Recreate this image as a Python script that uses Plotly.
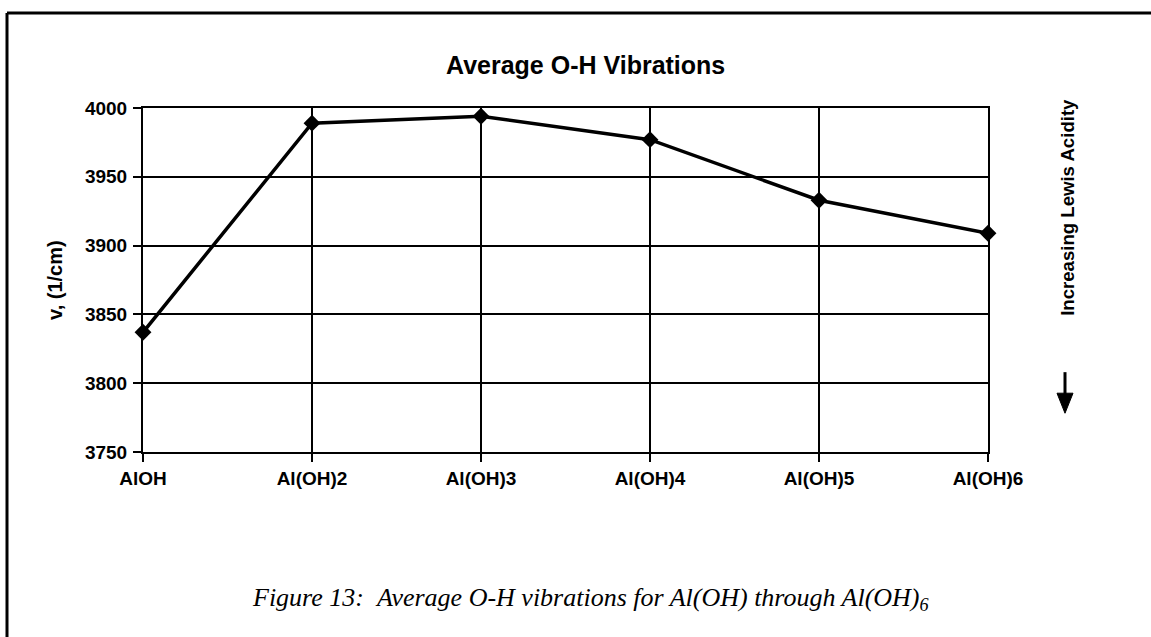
import plotly.graph_objects as go

# Chart data
categories = ["AlOH", "Al(OH)2", "Al(OH)3", "Al(OH)4", "Al(OH)5", "Al(OH)6"]
oh_freq = [3837, 3989, 3994, 3977, 3933, 3909]
y_ticks = [3750, 3800, 3850, 3900, 3950, 4000]

W, H = 1151, 637
L, R, T, B = 143, 988, 108.3, 451.7  # plot area in pixels


def px(x):
    return (x - L) / (R - L)


def py(y):
    return (B - y) / (B - T)


SANS = "Liberation Sans, Arial, sans-serif"
SERIF = "Liberation Serif, Times New Roman, serif"

fig = go.Figure()
fig.add_trace(go.Scatter(
    x=categories, y=oh_freq, mode="lines+markers",
    line=dict(color="black", width=3.5),
    marker=dict(symbol="diamond", size=13, color="black"),
    cliponaxis=False, showlegend=False, hoverinfo="x+y",
))

axis_common = dict(
    showline=True, mirror=True, linecolor="black", linewidth=2,
    showgrid=True, gridcolor="black", gridwidth=2,
    ticks="outside", ticklen=8, tickwidth=2, tickcolor="black",
    tickfont=dict(family=SANS, size=19, color="black", weight=700),
    zeroline=False,
)

fig.update_xaxes(type="category", range=[0, len(categories) - 1], **axis_common)
fig.update_yaxes(range=[3750, 4000], tickvals=y_ticks, ticklabelstandoff=2, **axis_common)

txt = dict(xref="paper", yref="paper", xanchor="center", yanchor="middle", showarrow=False)
annotations = [
    dict(text="Average O-H Vibrations", x=px(585), y=py(65),
         font=dict(family=SANS, size=25, color="black", weight=700), **txt),
    dict(text="v, (1/cm)", x=px(55), y=py(280), textangle=-90,
         font=dict(family=SANS, size=20, color="black", weight=700), **txt),
    dict(text="Increasing Lewis Acidity", x=px(1068), y=py(208), textangle=-90,
         font=dict(family=SANS, size=18.6, color="black", weight=700), **txt),
    dict(text="<i>Figure 13:\u00a0\u00a0Average O-H vibrations for Al(OH) through Al(OH)<sub>6</sub></i>",
         x=px(590), y=py(598),
         font=dict(family=SERIF, size=26, color="black"), **txt),
]

shapes = [
    # outer frame: top and left edges
    dict(type="line", xref="paper", yref="paper", x0=px(7), x1=px(1152), y0=py(13.5), y1=py(13.5),
         line=dict(color="black", width=3)),
    dict(type="line", xref="paper", yref="paper", x0=px(7), x1=px(7), y0=py(13.5), y1=py(640),
         line=dict(color="black", width=3)),
    # downward arrow next to the acidity label
    dict(type="line", xref="paper", yref="paper", x0=px(1065), x1=px(1065), y0=py(372), y1=py(396),
         line=dict(color="black", width=3)),
    dict(type="path", xref="paper", yref="paper",
         path=f"M {px(1057)} {py(393)} L {px(1073)} {py(393)} L {px(1065)} {py(413)} Z",
         fillcolor="black", line=dict(color="black", width=1)),
]

fig.update_layout(
    width=W, height=H,
    margin=dict(l=L, r=W - R, t=T, b=H - B),
    paper_bgcolor="white", plot_bgcolor="white",
    annotations=annotations, shapes=shapes,
)

fig.write_html("out.html")
